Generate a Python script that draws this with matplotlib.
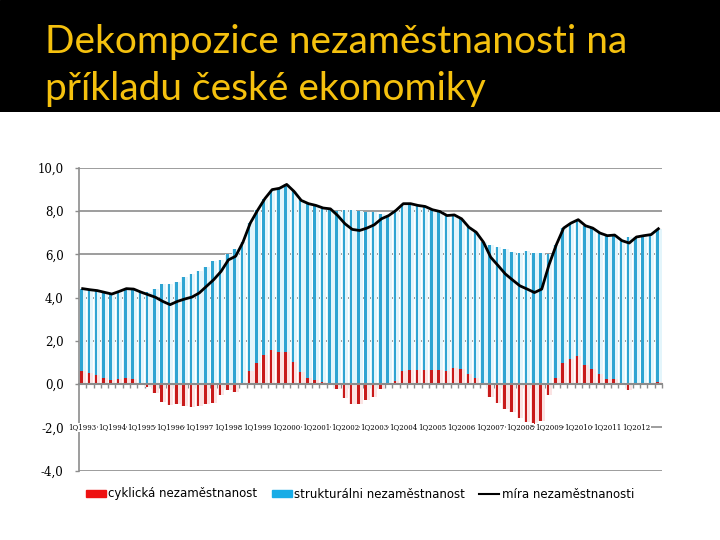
import numpy as np
import matplotlib
matplotlib.use("Agg")
from matplotlib import pyplot as plt
from matplotlib.patches import Patch, Rectangle
from matplotlib.lines import Line2D

# quarterly data 1Q1993 - 4Q2012
years = list(range(1993, 2013))
quarters = [f"{q}Q{y}" for y in years for q in range(1, 5)]
tick_labels = [f"1Q{y}" for y in years]

# unemployment rate (line)
rate = [4.42, 4.37, 4.33, 4.25, 4.17, 4.29, 4.42, 4.40, 4.26, 4.14,
        4.02, 3.83, 3.68, 3.83, 3.94, 4.03, 4.22, 4.53, 4.84, 5.22,
        5.75, 5.92, 6.57, 7.45, 8.04, 8.58, 9.00, 9.06, 9.24, 8.92,
        8.50, 8.35, 8.27, 8.15, 8.11, 7.80, 7.42, 7.16, 7.11, 7.22,
        7.37, 7.65, 7.80, 8.04, 8.35, 8.35, 8.27, 8.22, 8.07, 7.99,
        7.80, 7.83, 7.65, 7.26, 7.03, 6.57, 5.87, 5.49, 5.10, 4.82,
        4.55, 4.40, 4.24, 4.40, 5.53, 6.45, 7.22, 7.45, 7.61, 7.33,
        7.22, 6.99, 6.87, 6.90, 6.64, 6.53, 6.81, 6.87, 6.92, 7.19]

# cyclical unemployment (red bars)
cyclical = [0.62, 0.54, 0.42, 0.30, 0.18, 0.26, 0.31, 0.22, 0.02, -0.14,
            -0.40, -0.80, -0.97, -0.90, -1.00, -1.06, -1.03, -0.90, -0.85, -0.52,
            -0.27, -0.35, 0.05, 0.60, 1.00, 1.36, 1.59, 1.50, 1.50, 1.02,
            0.55, 0.30, 0.20, 0.08, 0.00, -0.20, -0.62, -0.90, -0.90, -0.74,
            -0.58, -0.23, 0.00, 0.15, 0.60, 0.68, 0.68, 0.68, 0.65, 0.68,
            0.60, 0.77, 0.72, 0.45, 0.31, 0.00, -0.58, -0.85, -1.15, -1.28,
            -1.54, -1.74, -1.82, -1.69, -0.51, 0.31, 1.00, 1.15, 1.29, 0.91,
            0.70, 0.46, 0.25, 0.22, -0.05, -0.28, 0.00, 0.00, -0.03, 0.08]

rate = np.array(rate)
cyclical = np.array(cyclical)
structural = rate - cyclical

x = np.arange(len(quarters))
grid_c = "#8c8c8c"

fig = plt.figure(figsize=(7.2, 5.4), dpi=100)

# black title band
band = fig.add_axes([0, 1 - 112 / 540, 1, 112 / 540])
band.add_patch(Rectangle((0, 0), 1, 1, color="black"))
band.set_xlim(0, 1)
band.set_ylim(0, 1)
band.axis("off")
fig.text(45 / 720, 1 - 53 / 540, "Dekompozice nezaměstnanosti na", color="#f5c10e",
         fontsize=28, family="Lato", va="baseline")
fig.text(45 / 720, 1 - 100 / 540, "příkladu české ekonomiky", color="#f5c10e",
         fontsize=28, family="Lato", va="baseline")

ax = fig.add_axes([79 / 720, 1 - 470.7 / 540, 583 / 720, (470.7 - 168) / 540])

# stacked columns: positive cyclical below structural, negative cyclical separate
blue_bottom = np.maximum(cyclical, 0)
ax.bar(x, structural, bottom=blue_bottom, width=0.9, color="#e3f5fb", zorder=2)
ax.bar(x - 0.15, structural, bottom=blue_bottom, width=0.35, color="#2ea4d2", zorder=3)
ax.bar(x, cyclical, width=0.9, color="#fbe3e3", zorder=2)
ax.bar(x - 0.15, cyclical, width=0.35, color="#c81a1a", zorder=3)

ax.plot(x, rate, color="black", lw=2.0, zorder=5, solid_joinstyle="round")

ax.set_xlim(-0.5, len(x) - 0.5)
ax.set_ylim(-4, 10)
yt = np.arange(-4, 11, 2)
ax.set_yticks(yt)
ax.set_yticklabels([f"{v:.1f}".replace(".", ",") for v in yt],
                   family="DejaVu Serif", fontsize=8.5)
ax.yaxis.grid(True, color=grid_c, lw=1.2, zorder=1)
ax.set_axisbelow(True)
ax.tick_params(axis="y", length=3, color=grid_c, pad=8, width=1)

# category axis sits at zero
ax.spines["bottom"].set_position(("data", 0))
ax.spines["bottom"].set_color(grid_c)
ax.spines["bottom"].set_linewidth(1.5)
ax.spines["bottom"].set_zorder(4)
ax.spines["left"].set_color(grid_c)
ax.spines["left"].set_linewidth(1.2)
ax.spines["top"].set_visible(False)
ax.spines["right"].set_visible(False)
ax.set_xticks(x + 0.5)
ax.set_xticklabels([])
ax.tick_params(axis="x", length=3, color=grid_c, width=1, direction="out")

for i, lab in zip(x[::4], tick_labels):
    ax.text(i, -2, lab, ha="center", va="center", fontsize=5.0, family="DejaVu Serif",
            zorder=6, bbox=dict(fc="white", ec="none", pad=0.1))

handles = [Patch(color="#ee1111"), Patch(color="#19ace6"),
           Line2D([0], [0], color="black", lw=1.5)]
fig.legend(handles, ["cyklická nezaměstnanost", "strukturálni nezaměstnanost",
                     "míra nezaměstnanosti"],
           loc="center", bbox_to_anchor=(0.5, 1 - 494 / 540), ncol=3, frameon=False,
           fontsize=8.5, handlelength=1.7, handleheight=0.6, columnspacing=1.2,
           handletextpad=0.2)

fig.savefig("out.png", dpi=100)
